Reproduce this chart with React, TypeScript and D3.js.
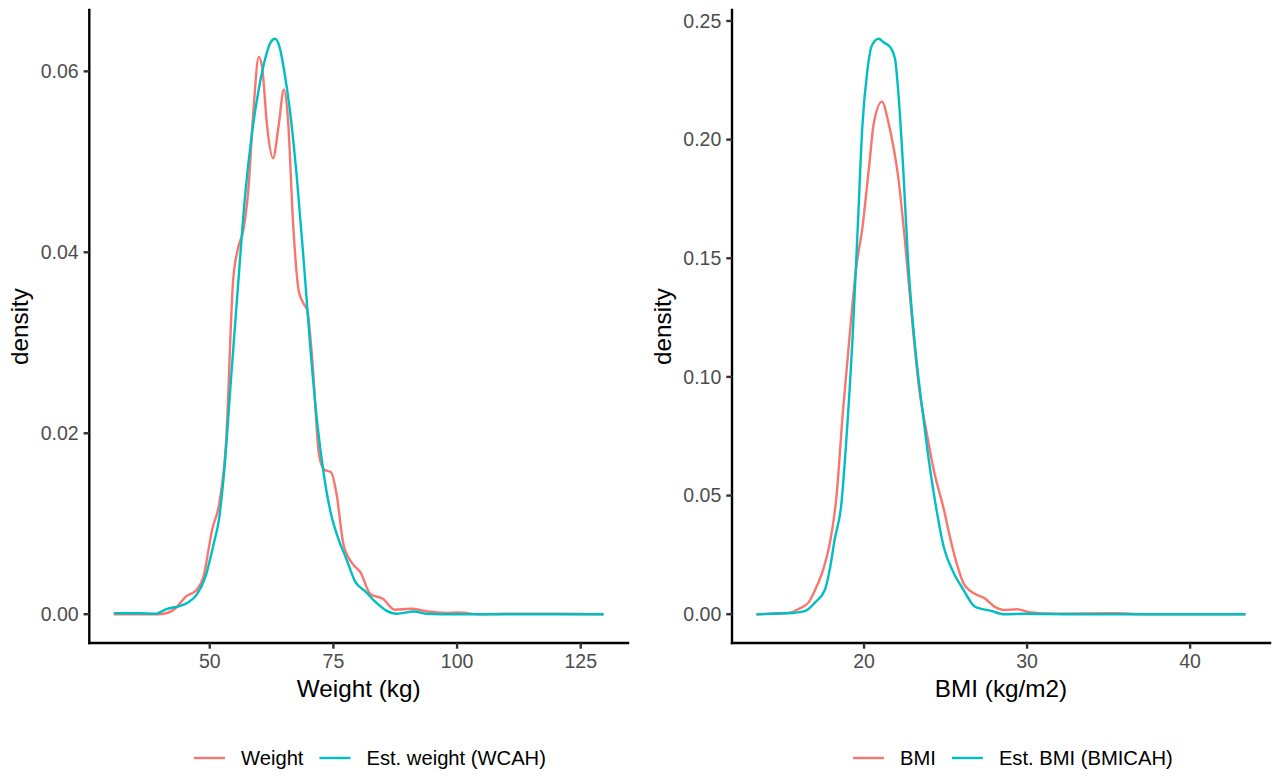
import React from "react";
import * as d3 from "d3";

// ---------- Data ----------
const weightX = [30.6, 39.7, 42.5, 45.3, 47.4, 48.7, 50.5, 51.9, 53.3, 54.7, 55.7, 56.8, 57.8, 58.9, 59.9, 60.6, 61.6, 62.8, 63.9, 65.0, 65.8, 66.9, 68.0, 69.0, 69.7, 70.7, 72.1, 73.1, 74.5, 75.6, 77.0, 78.7, 80.5, 82.5, 85.0, 87.4, 90.6, 94.0, 97.5, 100.3, 104.5, 110, 120, 129.6];
const weightDensity = [0, 0, 0.0004, 0.002, 0.0027, 0.0041, 0.0094, 0.0122, 0.019, 0.0367, 0.0404, 0.0425, 0.0469, 0.0562, 0.0616, 0.0604, 0.0539, 0.0504, 0.0539, 0.058, 0.0548, 0.0427, 0.0357, 0.0343, 0.0336, 0.0283, 0.0176, 0.016, 0.0157, 0.0134, 0.0078, 0.0057, 0.0046, 0.0022, 0.0017, 0.0005, 0.0006, 0.0003, 0.00015, 0.0002, 0, 0.00005, 0.00005, 0];

const estWeightX = [30.6, 35.5, 39.0, 41.4, 43.9, 45.6, 47.4, 49.1, 50.8, 51.9, 52.9, 54.3, 55.7, 57.1, 58.5, 59.9, 61.3, 62.3, 63.2, 64.1, 65.1, 66.2, 67.6, 69.0, 70.3, 71.7, 73.1, 74.5, 75.9, 77.7, 79.4, 81.5, 83.6, 85.7, 87.8, 91.3, 93.7, 96.8, 110, 129.6];
const estWeightDensity = [0.0001, 0.0001, 0.00005, 0.0006, 0.0009, 0.0013, 0.0022, 0.0041, 0.0078, 0.0106, 0.0157, 0.026, 0.0362, 0.046, 0.053, 0.058, 0.0616, 0.0632, 0.0636, 0.0627, 0.0599, 0.0557, 0.0483, 0.039, 0.0297, 0.0213, 0.0153, 0.0111, 0.0085, 0.006, 0.0036, 0.0025, 0.0013, 0.0004, 0.00005, 0.0003, 0.00005, 0, 0, 0];

const bmiX = [13.4, 15.4, 16.0, 16.6, 17.0, 17.5, 17.9, 18.3, 18.7, 19.2, 19.5, 19.9, 20.3, 20.6, 21.1, 21.5, 21.8, 22.1, 22.5, 23.0, 23.4, 23.8, 24.3, 24.9, 25.3, 25.7, 26.1, 26.6, 27.4, 28.0, 28.6, 29.4, 30.1, 31.8, 35.4, 37.1, 43.4];
const bmiDensity = [0, 0.0005, 0.0023, 0.005, 0.0103, 0.019, 0.0298, 0.049, 0.085, 0.124, 0.145, 0.163, 0.188, 0.207, 0.216, 0.207, 0.197, 0.184, 0.158, 0.12, 0.094, 0.078, 0.06, 0.044, 0.0316, 0.021, 0.013, 0.0094, 0.0067, 0.0032, 0.0018, 0.0021, 0.0009, 0.0002, 0.0004, 0, 0];

const estBmiX = [13.4, 15.6, 16.4, 17.0, 17.6, 17.9, 18.2, 18.6, 18.9, 19.3, 19.6, 19.9, 20.2, 20.5, 20.9, 21.2, 21.6, 21.9, 22.1, 22.4, 22.7, 23.2, 23.6, 24.0, 24.4, 24.9, 25.5, 26.1, 26.8, 27.8, 28.6, 29.9, 32.9, 43.4];
const estBmiDensity = [0, 0.0005, 0.0014, 0.005, 0.0103, 0.019, 0.0316, 0.046, 0.072, 0.117, 0.161, 0.206, 0.229, 0.24, 0.2425, 0.241, 0.239, 0.234, 0.22, 0.188, 0.149, 0.108, 0.085, 0.0636, 0.0458, 0.028, 0.0174, 0.0103, 0.0032, 0.0014, 0, 0.0002, 0, 0];

const weightTicksX = [50, 75, 100, 125];
const weightTicksY = [0, 0.02, 0.04, 0.06];
const bmiTicksX = [20, 30, 40];
const bmiTicksY = [0, 0.05, 0.1, 0.15, 0.2, 0.25];

const weightLabels = ["Weight", "Est. weight (WCAH)"];
const bmiLabels = ["BMI", "Est. BMI (BMICAH)"];

// ---------- Style ----------
const W = 1275;
const H = 776;
const RED = "#F8766D";
const CYAN = "#00BFC4";
const FONT = "'Liberation Sans', Arial, Helvetica, sans-serif";
const TICK = 19.5;
const LEG = 20.2;
const BIG = 24.3;
const LW = 2.4;
const TOP = 10;
const BOTTOM = 643;

let _ctx: CanvasRenderingContext2D | null = null;
function textWidth(t: string, size: number) {
  if (!_ctx) _ctx = document.createElement("canvas").getContext("2d");
  if (!_ctx) return t.length * size * 0.5;
  _ctx.font = `${size}px ${FONT}`;
  return _ctx.measureText(t).width;
}

type Series = { x: number[]; y: number[]; color: string };

function Panel(props: {
  left: number;
  right: number;
  series: Series[];
  xTicks: number[];
  yTicks: number[];
  xTitle: string;
  labels: string[];
  legendStart: number;
}) {
  const { left, right, series, xTicks, yTicks, xTitle, labels, legendStart } = props;
  const allX = series.flatMap((s) => s.x);
  const allY = series.flatMap((s) => s.y);
  const [x0, x1] = d3.extent(allX) as [number, number];
  const y1 = d3.max(allY) as number;
  const y0 = 0;
  const ex = (x1 - x0) * 0.05;
  const ey = (y1 - y0) * 0.05;
  const xs = d3.scaleLinear().domain([x0 - ex, x1 + ex]).range([left, right]);
  const ys = d3.scaleLinear().domain([y0 - ey, y1 + ey]).range([BOTTOM, TOP]);
  const line = d3
    .line<[number, number]>()
    .x((d) => xs(d[0]))
    .y((d) => ys(d[1]))
    .curve(d3.curveMonotoneX);
  const tickLen = 5.7;
  const fmt = d3.format(".2f");

  // legend layout
  const keyW = 31;
  const items: { kx: number; tx: number; color: string; label: string }[] = [];
  let cx = legendStart;
  labels.forEach((lab, i) => {
    const kx = cx;
    const tx = kx + keyW + 16;
    items.push({ kx, tx, color: series[i].color, label: lab });
    cx = tx + textWidth(lab, LEG) + 16;
  });
  const legendY = 758;

  return (
    <g>
      {series.map((s, i) => (
        <path
          key={i}
          d={line(s.x.map((v, j) => [v, s.y[j]] as [number, number])) || ""}
          fill="none"
          stroke={s.color}
          strokeWidth={LW}
          strokeLinejoin="round"
        />
      ))}
      {/* axes */}
      <line x1={left} x2={left} y1={TOP} y2={BOTTOM} stroke="black" strokeWidth={LW} strokeLinecap="square" />
      <line x1={left} x2={right} y1={BOTTOM} y2={BOTTOM} stroke="black" strokeWidth={LW} strokeLinecap="square" />
      {yTicks.map((t) => (
        <g key={"y" + t}>
          <line x1={left - tickLen} x2={left} y1={ys(t)} y2={ys(t)} stroke="#333333" strokeWidth={LW} />
          <text
            x={left - tickLen - 5}
            y={ys(t)}
            dy="0.35em"
            textAnchor="end"
            fontFamily={FONT}
            fontSize={TICK}
            fill="#4D4D4D"
          >
            {fmt(t)}
          </text>
        </g>
      ))}
      {xTicks.map((t) => (
        <g key={"x" + t}>
          <line x1={xs(t)} x2={xs(t)} y1={BOTTOM} y2={BOTTOM + tickLen} stroke="#333333" strokeWidth={LW} />
          <text
            x={xs(t)}
            y={BOTTOM + tickLen + 4.6}
            dy="0.76em"
            textAnchor="middle"
            fontFamily={FONT}
            fontSize={TICK}
            fill="#4D4D4D"
          >
            {t}
          </text>
        </g>
      ))}
      <text
        x={(left + right) / 2}
        y={688}
        dy="0.35em"
        textAnchor="middle"
        fontFamily={FONT}
        fontSize={BIG}
        fill="black"
      >
        {xTitle}
      </text>
      <text
        transform={`translate(${left - 70},${(TOP + BOTTOM) / 2}) rotate(-90)`}
        dy="0.35em"
        textAnchor="middle"
        fontFamily={FONT}
        fontSize={BIG}
        fill="black"
      >
        density
      </text>
      {items.map((it, i) => (
        <g key={"l" + i}>
          <line x1={it.kx} x2={it.kx + keyW} y1={legendY} y2={legendY} stroke={it.color} strokeWidth={LW} />
          <text x={it.tx} y={legendY} dy="0.35em" fontFamily={FONT} fontSize={LEG} fill="black">
            {it.label}
          </text>
        </g>
      ))}
    </g>
  );
}

export default function App() {
  return (
    <div style={{ position: "fixed", left: 0, top: 0, width: W, height: H, background: "white" }}>
      <svg width={W} height={H} style={{ display: "block" }}>
        <rect width={W} height={H} fill="white" />
        <Panel
          left={89.3}
          right={628}
          series={[
            { x: weightX, y: weightDensity, color: RED },
            { x: estWeightX, y: estWeightDensity, color: CYAN },
          ]}
          xTicks={weightTicksX}
          yTicks={weightTicksY}
          xTitle="Weight (kg)"
          labels={weightLabels}
          legendStart={194}
        />
        <Panel
          left={732}
          right={1270}
          series={[
            { x: bmiX, y: bmiDensity, color: RED },
            { x: estBmiX, y: estBmiDensity, color: CYAN },
          ]}
          xTicks={bmiTicksX}
          yTicks={bmiTicksY}
          xTitle="BMI (kg/m2)"
          labels={bmiLabels}
          legendStart={853}
        />
      </svg>
    </div>
  );
}
